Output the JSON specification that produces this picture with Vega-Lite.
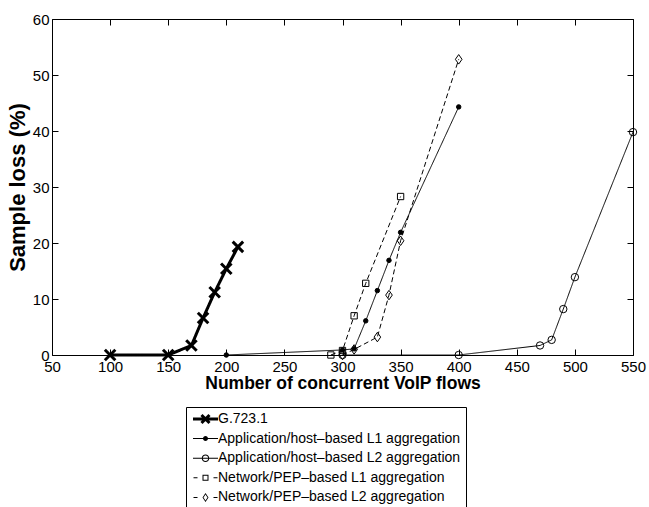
{
  "$schema": "https://vega.github.io/schema/vega-lite/v6.json",
  "width": 581,
  "height": 336,
  "autosize": {"type": "none"},
  "padding": {"left": 52, "top": 19, "right": 16, "bottom": 152},
  "background": "white",
  "config": {
    "view": {"stroke": null},
    "font": "Liberation Sans",
    "axis": {
      "domainColor": "black", "tickColor": "black", "labelColor": "black", "titleColor": "black",
      "labelFont": "Liberation Sans", "labelFontSize": 15, "titleFont": "Liberation Sans",
      "titleFontSize": 17.5, "titleFontWeight": "bold", "grid": false, "tickSize": -6,
      "domainWidth": 1, "tickWidth": 1, "labelFlush": false, "labelOverlap": false
    }
  },
  "data": {"values": [
    {"series": "G.723.1", "x": 100, "y": 0},
    {"series": "G.723.1", "x": 150, "y": 0},
    {"series": "G.723.1", "x": 170, "y": 1.7},
    {"series": "G.723.1", "x": 180, "y": 6.6},
    {"series": "G.723.1", "x": 190, "y": 11.2},
    {"series": "G.723.1", "x": 200, "y": 15.4},
    {"series": "G.723.1", "x": 210, "y": 19.3},
    {"series": "Application/host–based L1 aggregation", "x": 200, "y": 0},
    {"series": "Application/host–based L1 aggregation", "x": 300, "y": 0.9},
    {"series": "Application/host–based L1 aggregation", "x": 310, "y": 1.1},
    {"series": "Application/host–based L1 aggregation", "x": 320, "y": 6.1},
    {"series": "Application/host–based L1 aggregation", "x": 330, "y": 11.5},
    {"series": "Application/host–based L1 aggregation", "x": 340, "y": 16.9},
    {"series": "Application/host–based L1 aggregation", "x": 350, "y": 21.9},
    {"series": "Application/host–based L1 aggregation", "x": 400, "y": 44.3},
    {"series": "Application/host–based L2 aggregation", "x": 300, "y": 0},
    {"series": "Application/host–based L2 aggregation", "x": 400, "y": 0},
    {"series": "Application/host–based L2 aggregation", "x": 470, "y": 1.7},
    {"series": "Application/host–based L2 aggregation", "x": 480, "y": 2.7},
    {"series": "Application/host–based L2 aggregation", "x": 490, "y": 8.2},
    {"series": "Application/host–based L2 aggregation", "x": 500, "y": 13.9},
    {"series": "Application/host–based L2 aggregation", "x": 550, "y": 39.8},
    {"series": "Network/PEP–based L1 aggregation", "x": 290, "y": 0},
    {"series": "Network/PEP–based L1 aggregation", "x": 300, "y": 0.8},
    {"series": "Network/PEP–based L1 aggregation", "x": 310, "y": 7.0},
    {"series": "Network/PEP–based L1 aggregation", "x": 320, "y": 12.8},
    {"series": "Network/PEP–based L1 aggregation", "x": 350, "y": 28.3},
    {"series": "Network/PEP–based L2 aggregation", "x": 300, "y": 0},
    {"series": "Network/PEP–based L2 aggregation", "x": 310, "y": 1.0},
    {"series": "Network/PEP–based L2 aggregation", "x": 330, "y": 3.2},
    {"series": "Network/PEP–based L2 aggregation", "x": 340, "y": 10.7},
    {"series": "Network/PEP–based L2 aggregation", "x": 350, "y": 20.4},
    {"series": "Network/PEP–based L2 aggregation", "x": 400, "y": 52.8}
  ]},
  "layer": [
    {
      "mark": {"type": "line", "color": "black"},
      "encoding": {
        "x": {"field": "x", "type": "quantitative", "scale": {"domain": [50, 550], "nice": false, "zero": false},
              "axis": {"orient": "bottom", "values": [50,100,150,200,250,300,350,400,450,500,550], "format": "d",
                       "title": "Number of concurrent VoIP flows", "labelPadding": 10, "titlePadding": 0}},
        "y": {"field": "y", "type": "quantitative", "scale": {"domain": [0, 60], "nice": false, "zero": false},
              "axis": {"orient": "left", "values": [0,10,20,30,40,50,60], "format": "d",
                       "title": "Sample loss (%)", "titleFontSize": 22, "labelPadding": 9, "titlePadding": 3}},
        "detail": {"field": "series", "type": "nominal"},
        "strokeDash": {"field": "series", "type": "nominal", "legend": null,
          "scale": {"domain": ["G.723.1","Application/host–based L1 aggregation","Application/host–based L2 aggregation","Network/PEP–based L1 aggregation","Network/PEP–based L2 aggregation"],
                    "range": [[1,0],[1,0],[1,0],[5,3],[5,3]]}},
        "strokeWidth": {"field": "series", "type": "nominal", "legend": null,
          "scale": {"type": "ordinal", "domain": ["G.723.1","Application/host–based L1 aggregation","Application/host–based L2 aggregation","Network/PEP–based L1 aggregation","Network/PEP–based L2 aggregation"],
                    "range": [3,1,1,1,1]}}
      }
    },
    {
      "mark": {"type": "point", "stroke": "black", "opacity": 1},
      "encoding": {
        "x": {"field": "x", "type": "quantitative", "axis": null},
        "y": {"field": "y", "type": "quantitative", "axis": null},
        "shape": {"field": "series", "type": "nominal", "legend": null,
          "scale": {"domain": ["G.723.1","Application/host–based L1 aggregation","Application/host–based L2 aggregation","Network/PEP–based L1 aggregation","Network/PEP–based L2 aggregation"],
                    "range": ["M-1,-1L1,1M-1,1L1,-1", "circle", "circle", "square", "M0,-1L0.7,0L0,1L-0.7,0Z"]}},
        "size": {"field": "series", "type": "nominal", "legend": null,
          "scale": {"type": "ordinal", "domain": ["G.723.1","Application/host–based L1 aggregation","Application/host–based L2 aggregation","Network/PEP–based L1 aggregation","Network/PEP–based L2 aggregation"],
                    "range": [110, 20, 55, 40, 90]}},
        "fill": {"field": "series", "type": "nominal", "legend": null,
          "scale": {"domain": ["G.723.1","Application/host–based L1 aggregation","Application/host–based L2 aggregation","Network/PEP–based L1 aggregation","Network/PEP–based L2 aggregation"],
                    "range": ["black", "black", "transparent", "transparent", "transparent"]}},
        "strokeWidth": {"field": "series", "type": "nominal", "legend": null,
          "scale": {"type": "ordinal", "domain": ["G.723.1","Application/host–based L1 aggregation","Application/host–based L2 aggregation","Network/PEP–based L1 aggregation","Network/PEP–based L2 aggregation"],
                    "range": [3,1,1,1,1]}}
      }
    },
    {
      "mark": {"type": "point", "filled": true, "color": "black", "opacity": 0},
      "encoding": {
        "x": {"field": "x", "type": "quantitative",
              "axis": {"orient": "top", "values": [50,100,150,200,250,300,350,400,450,500,550], "labels": false, "title": null}},
        "y": {"field": "y", "type": "quantitative",
              "axis": {"orient": "right", "values": [0,10,20,30,40,50,60], "labels": false, "title": null}},
        "shape": {"field": "series", "type": "nominal",
          "scale": {"domain": ["G.723.1","Application/host–based L1 aggregation","Application/host–based L2 aggregation","Network/PEP–based L1 aggregation","Network/PEP–based L2 aggregation"],
                    "range": [
                      "M-1,-0.3H4V0.3H-1Z M0.912,-1.012L2.512,0.588L2.088,1.012L0.488,-0.588Z M0.488,0.588L2.088,-1.012L2.512,-0.588L0.912,1.012Z",
                      "M-1,-0.1H4V0.1H-1Z M1,0A0.5,0.5 0 1,1 2,0A0.5,0.5 0 1,1 1,0Z",
                      "M-1,-0.1H4V0.1H-1Z M0.75,0A0.75,0.75 0 1,1 2.25,0A0.75,0.75 0 1,1 0.75,0Z M0.95,0A0.55,0.55 0 1,0 2.05,0A0.55,0.55 0 1,0 0.95,0Z",
                      "M-0.9,-0.1H-0.1V0.1H-0.9Z M3.1,-0.1H3.9V0.1H3.1Z M0.9,-0.6H2.1V0.6H0.9Z M1.1,-0.4V0.4H1.9V-0.4Z",
                      "M-0.9,-0.1H-0.1V0.1H-0.9Z M3.1,-0.1H3.9V0.1H3.1Z M1.5,-0.9L2.1,0L1.5,0.9L0.9,0Z M1.5,-0.6L1.1,0L1.5,0.6L1.9,0Z"
                    ]},
          "legend": {
            "orient": "none", "legendX": 134, "legendY": 388, "direction": "vertical", "title": null,
            "symbolSize": 100, "labelFontSize": 14, "labelFont": "Liberation Sans", "labelColor": "black",
            "labelLimit": 400, "labelOffset": 13, "rowPadding": 5.6, "padding": 5,
            "strokeColor": "black", "fillColor": "white", "symbolOpacity": 1,
            "symbolStrokeColor": "transparent", "symbolStrokeWidth": 0, "symbolFillColor": "black"
          }}
      }
    }
  ],
  "resolve": {"scale": {"shape": "independent"}, "axis": {"x": "independent", "y": "independent"}}
}
